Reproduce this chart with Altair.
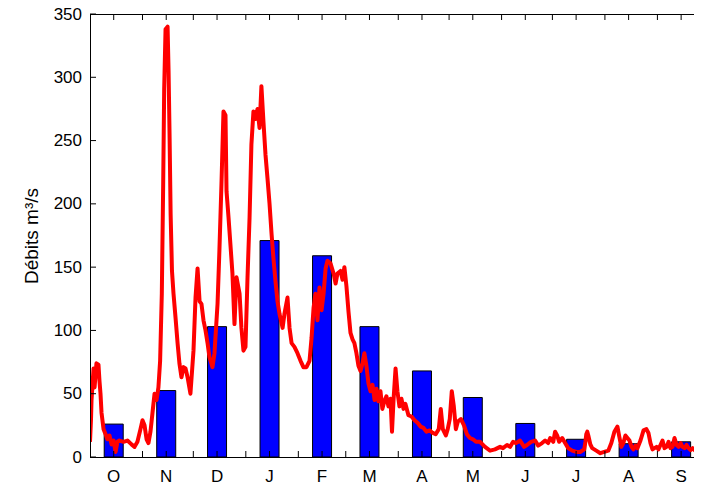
import altair as alt
import pandas as pd

# ---- data ----
months = ["O", "N", "D", "J", "F", "M", "A", "M", "J", "J", "A", "S"]
month_start = [1, 32, 62, 93, 124, 152, 183, 213, 244, 274, 305, 336]
month_mid = [15, 46, 76, 107, 138, 166, 197, 227, 258, 288, 319, 350]
monthly_mean = [26, 52.5, 103, 171, 159, 103, 68, 47, 26.5, 14, 10.5, 12]
y_ticks = [0, 50, 100, 150, 200, 250, 300, 350]
y_title = "Débits m³/s"

daily_day = [
    1.0, 1.6, 1.9, 3.1, 3.7, 4.8, 6.0, 6.6, 7.2, 7.8, 9.0, 10.2, 11.3, 12.5, 13.7,
    14.9, 16.1, 17.2, 18.4, 20.8, 23.1, 25.5, 27.3, 29.0, 30.8, 32.0, 33.2, 34.4,
    35.5, 36.7, 37.9, 39.1, 40.3, 41.4, 42.4, 43.4, 44.2, 44.8, 45.6, 46.8, 47.4,
    48.0, 48.6, 49.4, 50.3, 51.5, 52.7, 53.8, 55.0, 56.2, 57.4, 58.6, 60.3, 62.1,
    63.3, 64.5, 65.7, 66.8, 68.0, 69.2, 70.4, 71.5, 73.3, 74.5, 76.3, 77.4, 78.6,
    79.8, 81.0, 81.6, 82.8, 83.9, 85.1, 86.3, 87.5, 89.3, 90.4, 91.6, 92.8, 94.0,
    95.2, 96.3, 97.5, 98.7, 99.9, 101.1, 102.2, 103.4, 104.6, 105.8, 107.0, 108.2,
    109.3, 110.5, 111.7, 112.9, 114.7, 115.8, 117.6, 118.8, 120.0, 121.7, 123.5,
    125.3, 127.0, 128.8, 130.6, 131.8, 133.0, 134.1, 135.3, 136.5, 137.7, 138.9,
    140.1, 141.2, 143.0, 144.8, 146.0, 147.1, 148.9, 150.1, 151.2, 152.4, 153.6,
    154.8, 156.0, 157.1, 158.3, 159.5, 160.7, 161.9, 163.0, 164.2, 165.4, 166.6,
    167.8, 169.0, 170.1, 171.3, 172.5, 173.6, 174.8, 176.0, 177.2, 178.4, 179.3,
    180.2, 181.4, 182.5, 183.7, 184.9, 186.1, 187.2, 189.0, 190.8, 192.6, 194.4,
    196.2, 197.9, 199.7, 201.6, 203.4, 205.1, 206.9, 208.1, 209.3, 211.1, 212.2,
    213.4, 214.6, 215.8, 217.0, 218.2, 220.0, 221.8, 223.5, 225.3, 227.1, 228.9,
    231.3, 234.2, 237.2, 240.1, 243.1, 244.8, 247.2, 249.0, 250.8, 252.5, 254.9,
    257.3, 259.0, 261.4, 263.8, 265.6, 267.9, 269.7, 271.5, 272.7, 274.5, 275.6,
    276.8, 278.0, 279.8, 281.5, 283.3, 285.7, 288.1, 290.4, 292.8, 293.5, 294.0,
    294.6, 295.2, 296.4, 297.5, 299.9, 302.3, 304.6, 307.0, 308.8, 310.6, 312.4,
    313.5, 314.7, 315.9, 317.1, 318.3, 319.5, 320.7, 321.8, 323.0, 324.2, 326.0,
    327.8, 329.5, 330.7, 331.9, 333.1, 334.3, 335.5, 336.6, 337.8, 339.0, 340.2,
    341.4, 342.6, 343.7, 344.9, 346.1, 347.3, 348.5, 349.7, 350.8, 352.0, 353.2,
    354.4, 355.6, 356.8, 357.9, 359.1, 360.3, 361.5,
]
daily_flow = [
    12, 30, 45, 70, 55, 74, 73, 60, 50, 35, 22, 18, 14, 17, 10,
    13, 4, 12, 13, 12, 13, 10, 8, 12, 22, 29, 25, 14,
    11, 20, 35, 50, 45, 55, 76, 129, 215, 291, 338, 340, 304,
    252, 192, 147, 129, 110, 90, 74, 63, 71, 70, 63, 50, 84,
    126, 149, 123, 121, 108, 100, 90, 79, 71, 82, 121, 163, 215,
    273, 270, 210, 189, 168, 145, 105, 142, 129, 102, 84, 87, 142,
    189, 247, 273, 267, 275, 260, 293, 265, 239, 220, 200, 176,
    157, 139, 123, 113, 102, 113, 126, 102, 90, 87, 82,
    76, 71, 71, 76, 94, 118, 129, 108, 134, 116, 129,
    149, 155, 153, 145, 137, 145, 147, 140, 150, 135, 115,
    98, 93, 90, 82, 72, 68, 74, 82, 72, 58, 52,
    57, 45, 54, 44, 52, 38, 44, 48, 40, 46, 20,
    45, 70, 52, 40, 46, 38, 42, 33, 32, 29, 27,
    24, 23, 20, 21, 19, 18, 22, 38, 22, 17, 22,
    30, 52, 40, 22, 28, 30, 25, 18, 15, 14, 12,
    12, 8, 5, 6, 8, 7, 9.5, 8, 12, 11, 13,
    8, 9.5, 12, 13, 9, 11, 13, 11, 15, 12, 20,
    17, 12, 15, 11, 7, 5, 4, 4, 6, 12, 18,
    20, 17, 10, 7, 5, 3, 4, 5, 11, 20, 24,
    16, 8, 11, 17, 15, 13, 8, 6, 9, 7, 13,
    21, 22, 19, 11, 6, 7, 8, 6, 9.5, 13, 7,
    8, 12, 7, 8, 15, 9.5, 8, 11, 8, 7, 9.5,
    7, 5.5, 7, 5.5, 4, 3, 2.4,
]

# ---- layout constants ----
W, H = 604, 443
FONT = "Liberation Sans"

bar_df = pd.DataFrame({"day": month_mid, "flow": monthly_mean})
line_df = pd.DataFrame({"day": daily_day, "flow": daily_flow})
xtick_df = pd.DataFrame({"day": month_start[1:] + month_mid})
xlab_df = pd.DataFrame({"day": month_mid, "label": months})
ytick_df = pd.DataFrame({"flow": y_ticks})
dummy = pd.DataFrame({"a": [0]})

xs = alt.Scale(domain=[1, 357.6], nice=False, zero=False, padding=0)
ys = alt.Scale(domain=[0, 350], nice=False, padding=0)


def X(field="day"):
    return alt.X(field + ":Q", scale=xs, axis=None)


def Y(field="flow"):
    return alt.Y(field + ":Q", scale=ys, axis=None)


bars = alt.Chart(bar_df).mark_bar(
    color="#0000FF", stroke="black", strokeWidth=1, size=19
).encode(x=X(), y=Y())

line = alt.Chart(line_df).mark_line(
    color="#FF0000", strokeWidth=4, clip=True, strokeJoin="round"
).encode(x=X(), y=Y())

rule = dict(color="black", strokeWidth=1)
bottom_ticks = alt.Chart(xtick_df).mark_rule(**rule).encode(
    x=X(), y=alt.value(H), y2=alt.value(H - 6))
top_ticks = alt.Chart(xtick_df).mark_rule(**rule).encode(
    x=X(), y=alt.value(0), y2=alt.value(6))
left_ticks = alt.Chart(ytick_df).mark_rule(**rule).encode(
    y=Y(), x=alt.value(0), x2=alt.value(6))
top_border = alt.Chart(dummy).mark_rule(**rule).encode(
    x=alt.value(0), x2=alt.value(W), y=alt.value(0.5))
bottom_border = alt.Chart(dummy).mark_rule(**rule).encode(
    x=alt.value(0), x2=alt.value(W), y=alt.value(H + 0.5))
left_border = alt.Chart(dummy).mark_rule(**rule).encode(
    x=alt.value(0.5), y=alt.value(0), y2=alt.value(H + 1))

ylabels = alt.Chart(ytick_df).mark_text(
    align="right", baseline="middle", font=FONT, fontSize=17, color="black",
    dy=0.5
).encode(y=Y(), x=alt.value(-8), text=alt.Text("flow:Q", format="d"))

xlabels = alt.Chart(xlab_df).mark_text(
    align="center", baseline="alphabetic", font=FONT, fontSize=17, color="black"
).encode(x=X(), y=alt.value(H + 25), text="label:N")

ytitle = alt.Chart(dummy).mark_text(
    align="center", baseline="alphabetic", angle=270, font=FONT, fontSize=19,
    color="black"
).encode(x=alt.value(-52), y=alt.value(222), text=alt.value(y_title))

chart = alt.layer(
    bars, line, bottom_ticks, top_ticks, left_ticks,
    top_border, bottom_border, left_border, ylabels, xlabels, ytitle
).properties(
    width=W, height=H,
    padding={"left": 82, "top": 6, "right": 0, "bottom": 30},
    autosize=alt.AutoSizeParams(type="none"),
).configure_view(stroke=None)

chart.save("out.html", embed_options={"renderer": "svg", "actions": False})
